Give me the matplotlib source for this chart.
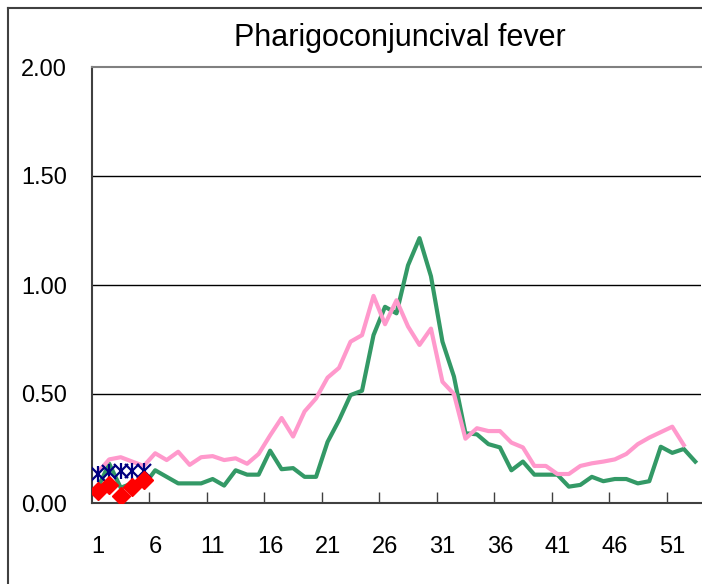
import numpy as np
import matplotlib
matplotlib.use("Agg")
import matplotlib.pyplot as plt
from matplotlib.lines import Line2D

plt.rcParams['font.family'] = ['Liberation Sans', 'DejaVu Sans']

# weekly values
green = [0.07, 0.18, 0.07, 0.09, 0.08, 0.15, 0.12, 0.09, 0.09, 0.09,
         0.11, 0.08, 0.15, 0.13, 0.13, 0.24, 0.155, 0.16, 0.12, 0.12,
         0.28, 0.38, 0.495, 0.515, 0.77, 0.90, 0.87, 1.09, 1.215, 1.04,
         0.74, 0.58, 0.32, 0.315, 0.27, 0.255, 0.15, 0.19, 0.13, 0.13,
         0.13, 0.075, 0.083, 0.12, 0.10, 0.11, 0.11, 0.09, 0.10, 0.258,
         0.23, 0.248, 0.19]
pink = [0.14, 0.20, 0.21, 0.19, 0.17, 0.228, 0.197, 0.235, 0.175, 0.21,
        0.215, 0.197, 0.205, 0.18, 0.225, 0.31, 0.39, 0.305, 0.42, 0.48,
        0.575, 0.62, 0.74, 0.77, 0.95, 0.82, 0.93, 0.81, 0.725, 0.80,
        0.556, 0.50, 0.295, 0.343, 0.33, 0.33, 0.277, 0.255, 0.17, 0.17,
        0.133, 0.133, 0.17, 0.182, 0.19, 0.20, 0.225, 0.27, 0.30, 0.325,
        0.35, 0.266]
stars = [0.135, 0.14, 0.145, 0.145, 0.145]
diamonds = [0.056, 0.083, 0.032, 0.072, 0.105]

week_labels = [1, 6, 11, 16, 21, 26, 31, 36, 41, 46, 51]
y_ticks = [0.0, 0.5, 1.0, 1.5, 2.0]

W, H = 702, 584
fig = plt.figure(figsize=(W / 100, H / 100), dpi=100)

# outer chart frame (runs off the right and bottom of the picture)
fig.add_artist(Line2D([8 / W, 8 / W], [0, 1 - 8 / H], transform=fig.transFigure,
                      color="#404040", lw=1.5))
fig.add_artist(Line2D([8 / W, 1], [1 - 8 / H, 1 - 8 / H], transform=fig.transFigure,
                      color="#404040", lw=1.5))

ax = fig.add_axes([92 / W, 1 - 503 / H, (701 - 92) / W, (503 - 67) / H])

ax.plot(range(1, len(green) + 1), green, color="#339966", lw=3, zorder=3)
ax.plot(range(1, len(pink) + 1), pink, color="#FF99CC", lw=3, zorder=3)
wk = range(1, len(stars) + 1)
ax.plot(wk, stars, ls="none", marker="x", ms=10, mew=1.6, color="#000080", zorder=4)
ax.plot(wk, stars, ls="none", marker="|", ms=12, mew=1.6, color="#000080", zorder=4)
ax.plot(range(1, len(diamonds) + 1), diamonds, ls="none", marker="D", ms=9,
        color="#FF0000", zorder=5)

ax.set_xlim(0.5, 53.5)
ax.set_ylim(0, 2.0)

for v in y_ticks[1:-1]:
    ax.axhline(v, color="black", lw=1.0, zorder=1)

ax.set_yticks(y_ticks)
ax.set_yticklabels(["%.2f" % v for v in y_ticks], fontsize=17)
ax.tick_params(axis="y", length=0, pad=18)

ax.set_xticks(np.arange(5.5, 51, 5))
ax.set_xticklabels([])
ax.set_xticks(week_labels, minor=True)
ax.set_xticklabels([str(w) for w in week_labels], minor=True, fontsize=17)
ax.tick_params(axis="x", which="major", direction="in", length=8, width=1, color="#404040")
ax.tick_params(axis="x", which="minor", length=0, pad=24)

for s in ["left", "bottom"]:
    ax.spines[s].set_color("#404040")
    ax.spines[s].set_linewidth(1.5)
ax.spines["top"].set_color("#808080")
ax.spines["top"].set_linewidth(1.5)
ax.spines["right"].set_visible(False)

fig.text(400 / W, 1 - 38 / H, "Pharigoconjuncival fever", fontsize=22,
         ha="center", va="center")

fig.savefig("out.png", dpi=100)
